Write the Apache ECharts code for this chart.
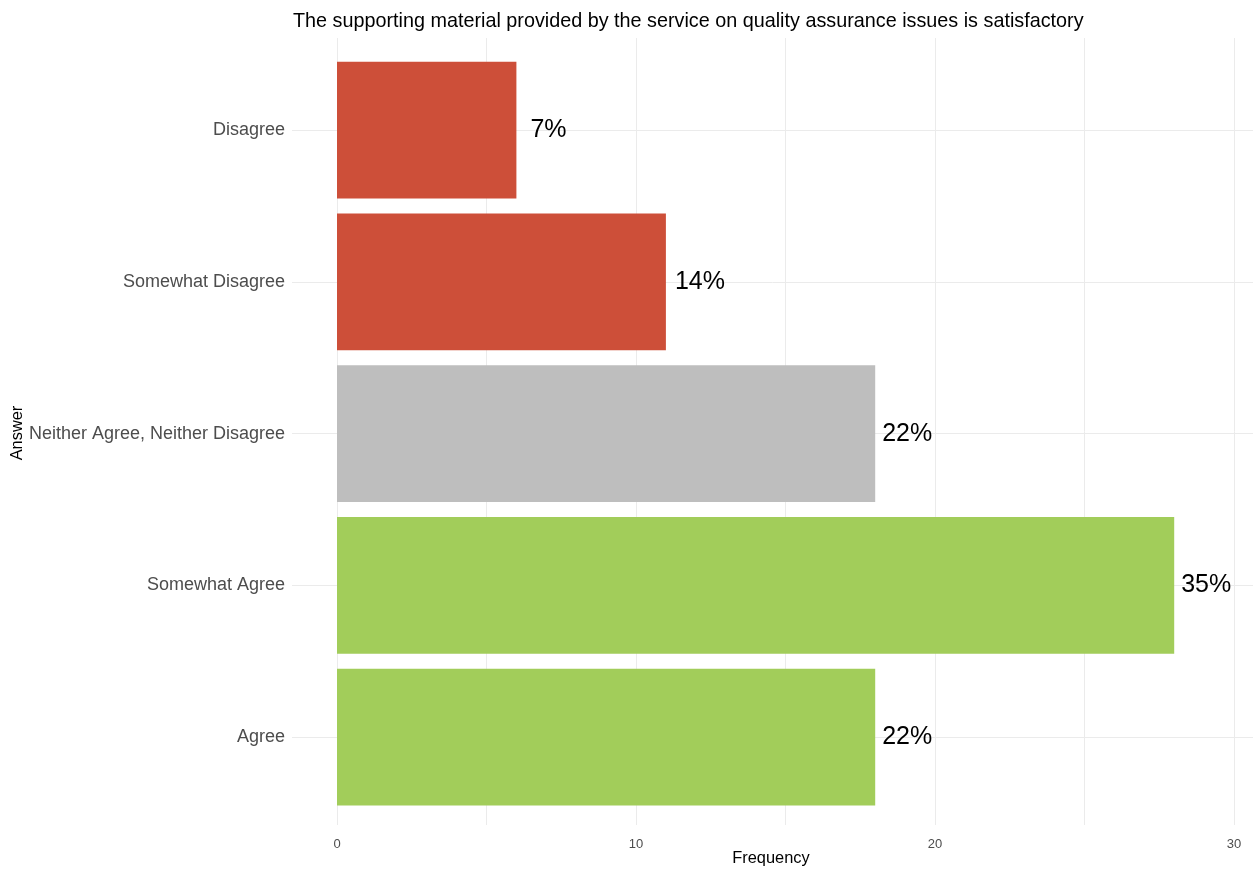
<!DOCTYPE html>
<html>
<head>
<meta charset="utf-8">
<script src="https://cdn.jsdelivr.net/npm/echarts@6/dist/echarts.min.js"></script>
<style>
html,body{margin:0;padding:0;background:#fff;}
#chart{width:1253px;height:870px;}
</style>
</head>
<body>
<div id="chart"></div>
<script>
const titleText = 'The supporting material provided by the service on quality assurance issues is satisfactory';
const xAxisTitle = 'Frequency';
const yAxisTitle = 'Answer';
const categories = ['Disagree', 'Somewhat Disagree', 'Neither Agree, Neither Disagree', 'Somewhat Agree', 'Agree'];
const counts = [6, 11, 18, 28, 18];
const percentLabels = ['7%', '14%', '22%', '35%', '22%'];
const barColors = ['#CD4F39', '#CD4F39', '#BEBEBE', '#A2CD5A', '#A2CD5A'];
const xTicks = [0, 10, 20, 30];

const FONT = '"Liberation Sans", Arial, sans-serif';
const chart = echarts.init(document.getElementById('chart'), null, {renderer: 'canvas'});

const option = {
  backgroundColor: '#ffffff',
  animation: false,
  textStyle: {fontFamily: FONT},
  title: {
    text: titleText,
    left: 288, top: 7,
    textStyle: {fontFamily: FONT, fontSize: 19.8, fontWeight: 'normal', color: '#000'}
  },
  graphic: [
    {type: 'text', x: 771, y: 858, z: 10,
      style: {text: xAxisTitle, align: 'center', verticalAlign: 'middle', fontSize: 16.4, fontFamily: FONT, fill: '#000'}},
    {type: 'text', x: 17, y: 433, rotation: Math.PI / 2, z: 10,
      style: {text: yAxisTitle, align: 'center', verticalAlign: 'middle', fontSize: 16.4, fontFamily: FONT, fill: '#000'}}
  ],
  grid: [
    // bars
    {left: 337, width: 897, top: 54.25, height: 758.75, containLabel: false, outerBoundsMode: 'none'},
    // vertical gridlines
    {left: 337, width: 897, top: 38, height: 787, containLabel: false, outerBoundsMode: 'none'},
    // horizontal gridlines
    {left: 292, width: 961, top: 130, height: 607, containLabel: false, outerBoundsMode: 'none'}
  ],
  xAxis: [
    {gridIndex: 0, type: 'value', min: 0, max: 30, show: false},
    {gridIndex: 1, type: 'value', min: 0, max: 30, interval: 5,
      axisLine: {show: false}, axisTick: {show: false},
      splitLine: {show: true, lineStyle: {color: '#EBEBEB', width: 1}},
      axisLabel: {
        margin: 13, fontSize: 13, color: '#4D4D4D', fontFamily: FONT,
        formatter: v => (xTicks.indexOf(v) >= 0 ? String(v) : '')
      }
    },
    {gridIndex: 2, type: 'value', min: 0, max: 1, show: false}
  ],
  yAxis: [
    {gridIndex: 0, type: 'category', data: categories, inverse: true,
      axisLine: {show: false}, axisTick: {show: false}, splitLine: {show: false},
      axisLabel: {margin: 52, fontSize: 18, color: '#4D4D4D', fontFamily: FONT}
    },
    {gridIndex: 1, type: 'value', show: false},
    {gridIndex: 2, type: 'value', min: 0, max: 4, interval: 1,
      axisLine: {show: false}, axisTick: {show: false}, axisLabel: {show: false},
      splitLine: {show: true, lineStyle: {color: '#EBEBEB', width: 1}}
    }
  ],
  series: [
    {
      type: 'bar', xAxisIndex: 0, yAxisIndex: 0,
      barCategoryGap: '10%',
      data: counts.map((v, i) => ({
        value: v,
        itemStyle: {color: barColors[i]},
        label: i === 0 ? {distance: 14} : (i === 1 ? {distance: 9} : {})
      })),
      label: {
        show: true, position: 'right', distance: 7,
        fontSize: 25, color: '#000', fontFamily: FONT,
        formatter: p => percentLabels[p.dataIndex]
      },
      z: 3
    }
  ]
};
chart.setOption(option);
</script>
</body>
</html>
